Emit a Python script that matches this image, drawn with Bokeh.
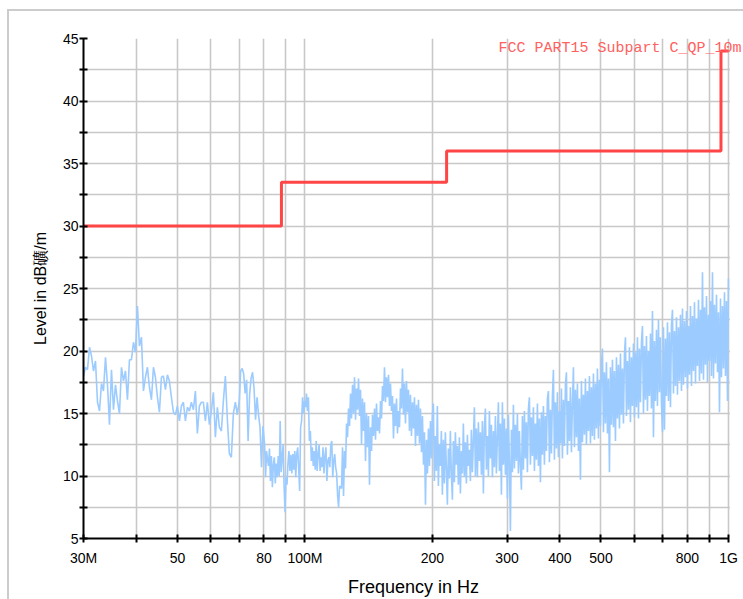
import numpy as np
from bokeh.plotting import figure
from bokeh.models import Range1d, FixedTicker, Label, BoxAnnotation
from bokeh.embed import file_html
from bokeh.resources import INLINE

# ---- limit line: FCC PART15 Subpart C_QP_10m (MHz, dBuV/m) ----
limit_name = "FCC PART15 Subpart C_QP_10m"
limit_freq_mhz = [30, 88, 216, 960, 1000]
limit_level_db = [30.0, 33.5, 36.0, 44.0, 44.0]

seg1_range_mhz = [30, 70]
seg1_level = [
    18.0, 18.7, 18.5, 20.3, 19.6, 18.4, 19.2, 15.9, 15.2, 17.4,
    16.8, 19.5, 17.3, 14.1, 18.5, 15.3, 17.3, 16.0, 15.0, 18.7,
    17.6, 18.4, 16.1, 19.3, 19.3, 20.7, 19.9, 23.6, 20.4, 21.1,
    16.8, 17.9, 18.7, 17.1, 16.1, 18.7, 17.9, 16.3, 15.1, 17.9,
    18.0, 16.9, 18.1, 17.6, 16.3, 15.1, 14.9, 15.6, 14.4, 15.6,
    15.9, 14.4, 15.5, 15.2, 15.9, 15.3, 16.8, 13.4, 15.6, 15.9,
    15.9, 14.4, 15.9, 14.1, 15.2, 16.7, 13.1, 15.5, 13.9, 13.6,
    16.0, 18.0, 14.5, 11.8, 11.5, 15.0, 15.9, 14.9, 16.1,
]
seg2_range_mhz = [70.5, 79.6]
seg2_level = [
    18.4, 18.6, 18.2, 16.6, 17.7, 12.8, 16.5, 17.8, 18.3, 17.0,
    14.5, 16.3, 14.9, 13.9, 10.7, 14.0,
]
seg3_range_mhz = [80.3, 120.7]
seg3_level = [
    12.5, 9.9, 12.0, 11.3, 10.8, 12.2, 9.6, 11.6, 9.1, 10.9,
    11.5, 9.4, 11.0, 9.9, 11.6, 10.0, 14.4, 10.3, 11.5, 12.5,
    9.2, 7.1, 9.9, 9.3, 11.0, 12.0, 10.4, 11.7, 10.2, 11.75,
    10.5, 12.0, 9.9, 11.75, 12.3, 10.6, 8.8, 13.9, 14.4, 16.3,
    15.0, 16.0, 15.5, 16.6, 15.2, 16.3, 12.8, 13.6, 11.2, 12.3,
    10.8, 12.0, 10.5, 12.8, 10.4, 11.75, 12.5, 10.4, 11.5, 10.7,
    12.3, 10.2, 11.6, 12.3, 9.6, 11.2, 11.5, 10.7, 12.5, 12.8,
    9.9, 11.2, 11.75, 10.7, 10.2, 8.4, 7.5, 9.2,
]
seg4_range_mhz = [122, 200]
seg4_level = [
    9.0, 12.3, 8.4, 12.0, 10.6, 14.2, 13.1, 15.4, 14.0, 16.6,
    14.6, 17.3, 15.0, 17.9, 14.5, 17.0, 15.3, 17.8, 14.8, 16.9,
    12.5, 16.2, 13.6, 15.9, 11.2, 15.0, 12.3, 14.8, 9.3, 13.9,
    12.0, 14.9, 13.2, 15.4, 12.9, 15.8, 13.6, 14.7, 13.4, 16.0,
    14.6, 17.2, 16.0, 18.7, 15.9, 17.9, 16.3, 18.1, 15.6, 17.4,
    15.2, 16.4, 13.0, 15.8, 14.0, 16.2, 13.4, 15.2, 13.9, 17.0,
    15.4, 18.6, 14.9, 17.4, 14.2, 17.6, 15.1, 16.9, 13.6, 16.5,
    13.2, 15.9, 13.8, 16.3, 12.4, 15.7, 13.2, 16.1, 12.6, 15.4,
    11.9, 14.8, 10.9, 13.5, 7.7, 12.9, 10.2, 13.8, 10.8, 14.4,
    11.4, 15.0,
]
seg5_range_mhz = [201, 1000]
seg5_level = [
    15.8, 9.6, 13.2, 10.4, 15.6, 9.2, 12.5, 10.8, 13.6, 8.5,
    12.9, 9.4, 13.5, 10.6, 7.7, 12.2, 9.8, 13.6, 10.1, 8.1,
    12.8, 9.5, 13.5, 10.9, 12.4, 9.3, 13.1, 8.6, 12.0, 10.2,
    14.2, 9.9, 12.7, 9.4, 13.3, 10.8, 12.1, 9.6, 13.7, 10.3,
    12.9, 15.5, 10.0, 13.8, 9.9, 14.3, 11.2, 13.5, 10.1, 14.4,
    8.6, 13.9, 15.4, 10.5, 13.2, 10.0, 15.2, 11.4, 14.1, 9.9,
    13.6, 10.7, 14.8, 10.2, 13.1, 15.9, 10.4, 14.2, 8.5, 15.9,
    10.9, 14.6, 10.1, 13.8, 8.2, 14.9, 11.0, 5.6, 13.7, 10.3,
    15.7, 10.6, 14.1, 11.2, 15.0, 10.2, 13.6, 10.8, 8.9, 14.8,
    10.5, 15.2, 11.4, 14.3, 10.3, 15.4, 16.3, 10.9, 14.7, 11.6,
    15.5, 10.4, 14.2, 11.3, 15.8, 10.8, 14.6, 9.5, 15.1, 11.7,
    15.6, 10.9, 14.8, 12.0, 16.2, 16.8, 11.1, 15.3, 11.8, 16.4,
    18.5, 11.3, 15.9, 12.2, 16.7, 11.5, 15.2, 12.6, 17.0, 11.4,
    16.1, 12.4, 17.3, 18.3, 11.7, 16.0, 12.8, 17.1, 11.9, 15.8,
    18.7, 12.3, 16.9, 13.1, 17.4, 12.0, 16.2, 9.7, 17.6, 12.7,
    16.5, 13.3, 17.8, 12.5, 16.8, 13.6, 18.0, 12.6, 17.1, 13.2,
    18.2, 12.9, 17.4, 13.8, 18.6, 13.0, 17.7, 14.0, 18.9, 20.2,
    13.5, 18.3, 14.2, 19.1, 13.4, 17.8, 10.3, 18.7, 14.1, 19.3,
    13.9, 18.4, 12.8, 19.5, 14.6, 18.9, 13.8, 19.8, 14.9, 18.6,
    14.2, 19.7, 21.1, 14.8, 19.2, 15.3, 20.3, 14.3, 19.5, 15.6,
    20.6, 14.7, 19.9, 15.5, 21.1, 14.6, 20.2, 15.9, 20.7, 22.0,
    15.0, 20.4, 16.1, 21.2, 15.2, 20.0, 16.4, 21.4, 15.4, 23.2,
    13.1, 20.8, 16.0, 21.7, 15.6, 22.5, 16.7, 21.1, 15.8, 13.5,
    21.9, 13.7, 21.0, 16.4, 22.3, 16.0, 21.5, 15.5, 22.1, 23.3,
    16.6, 21.6, 17.2, 22.7, 16.5, 21.9, 17.6, 22.9, 16.8, 23.4,
    17.3, 22.4, 17.9, 23.2, 17.0, 22.0, 18.1, 23.6, 17.2, 22.8,
    18.4, 23.9, 17.4, 22.6, 18.8, 24.1, 17.6, 23.3, 18.2, 26.3,
    17.7, 23.5, 18.9, 24.4, 17.5, 22.9, 19.2, 24.0, 18.0, 26.3,
    17.8, 23.7, 19.0, 24.5, 18.3, 23.1, 15.1, 24.2, 17.9, 23.6,
    18.6, 24.7, 18.0, 24.0, 16.0, 25.8,
]

# ---- axis ticks ----
x_ticks_mhz = [30, 40, 50, 60, 70, 80, 90, 100, 200, 300, 400, 500, 600, 700, 800, 900, 1000]
x_tick_labels = ["30M", "", "50", "60", "", "80", "", "100M", "200", "300", "400", "500", "", "", "800", "", "1G"]
y_ticks = [5, 7.5, 10, 12.5, 15, 17.5, 20, 22.5, 25, 27.5, 30, 32.5, 35, 37.5, 40, 42.5, 45]
y_tick_labels = ["5", "", "10", "", "15", "", "20", "", "25", "", "30", "", "35", "", "40", "", "45"]

# sweep frequency grid of each segment (log-spaced sweep points)
segments = [
    (seg1_range_mhz, seg1_level),
    (seg2_range_mhz, seg2_level),
    (seg3_range_mhz, seg3_level),
    (seg4_range_mhz, seg4_level),
    (seg5_range_mhz, seg5_level),
]
freq_mhz = np.concatenate([np.geomspace(r[0], r[1], len(lv)) for r, lv in segments])
level_db = np.concatenate([np.array(lv, dtype=float) for _, lv in segments])

# the frame runs to the right page edge so that the limit name is not clipped;
# the axis is bounded to 30M..1G and the strip beyond 1G is blanked.
p = figure(
    width=743, height=599,
    x_axis_type="log",
    x_range=Range1d(30, 1085), y_range=Range1d(5, 45),
    output_backend="svg", toolbar_location=None,
    min_border_left=83, min_border_right=0, min_border_top=38, min_border_bottom=61,
)
# thin light-grey page frame (top and left edges) behind a transparent border area
p.styles = {
    "background": "linear-gradient(#cccccc, #cccccc) 8px 9px / 100% 2px no-repeat, "
                  "linear-gradient(#cccccc, #cccccc) 7px 9px / 2px 100% no-repeat, #ffffff",
}
p.outline_line_color = None
p.background_fill_color = "white"
p.border_fill_color = None

# grid
p.xgrid.ticker = FixedTicker(ticks=x_ticks_mhz)
p.ygrid.ticker = FixedTicker(ticks=y_ticks)
for g in (p.xgrid, p.ygrid):
    g.grid_line_color = "#c8c8c8"
    g.grid_line_width = 1.6

# axes
p.xaxis.ticker = FixedTicker(ticks=x_ticks_mhz)
p.xaxis.major_label_overrides = dict(zip(x_ticks_mhz, x_tick_labels))
p.xaxis.bounds = (x_ticks_mhz[0], x_ticks_mhz[-1])
p.yaxis.ticker = FixedTicker(ticks=y_ticks)
p.yaxis.major_label_overrides = dict(zip(y_ticks, y_tick_labels))
for ax in (p.xaxis, p.yaxis):
    ax.axis_line_color = "black"
    ax.axis_line_width = 2
    ax.major_tick_line_color = "black"
    ax.major_tick_line_width = 2
    ax.major_tick_in = 4
    ax.major_tick_out = 4
    ax.minor_tick_line_color = None
    ax.major_label_text_font = "Liberation Sans"
    ax.major_label_text_font_size = "14px"
    ax.major_label_text_color = "black"
    ax.axis_label_text_font = "Liberation Sans"
    ax.axis_label_text_font_style = "normal"
    ax.axis_label_text_color = "black"

p.xaxis.axis_label = "Frequency in Hz"
p.xaxis.axis_label_text_font_size = "18px"
p.xaxis.major_label_standoff = 7
p.xaxis.axis_label_standoff = 8

p.yaxis.axis_label = "Level in dB礦/m"
p.yaxis.axis_label_text_font_size = "16px"
p.yaxis.major_label_standoff = 1
p.yaxis.axis_label_standoff = 11

# blank strip to the right of 1G (hides the horizontal grid lines there)
p.add_layout(BoxAnnotation(left=1008, right=1200, bottom=0, top=50,
                           fill_color="white", fill_alpha=1.0, line_color=None))

# measured trace
p.line(freq_mhz, level_db, line_color="#9ccbff", line_width=1.6)

# limit line
p.step(limit_freq_mhz, limit_level_db, mode="after", line_color="#ff4545", line_width=3)

# limit name label (top right); screen units from the frame's bottom-left corner
p.add_layout(Label(
    x=415, y=490, x_units="screen", y_units="screen", text=limit_name,
    text_font="Liberation Mono", text_font_size="15px",
    text_color="#ff6060", text_baseline="alphabetic", text_align="left",
))

with open("out.html", "w") as f:
    f.write(file_html(p, INLINE))
